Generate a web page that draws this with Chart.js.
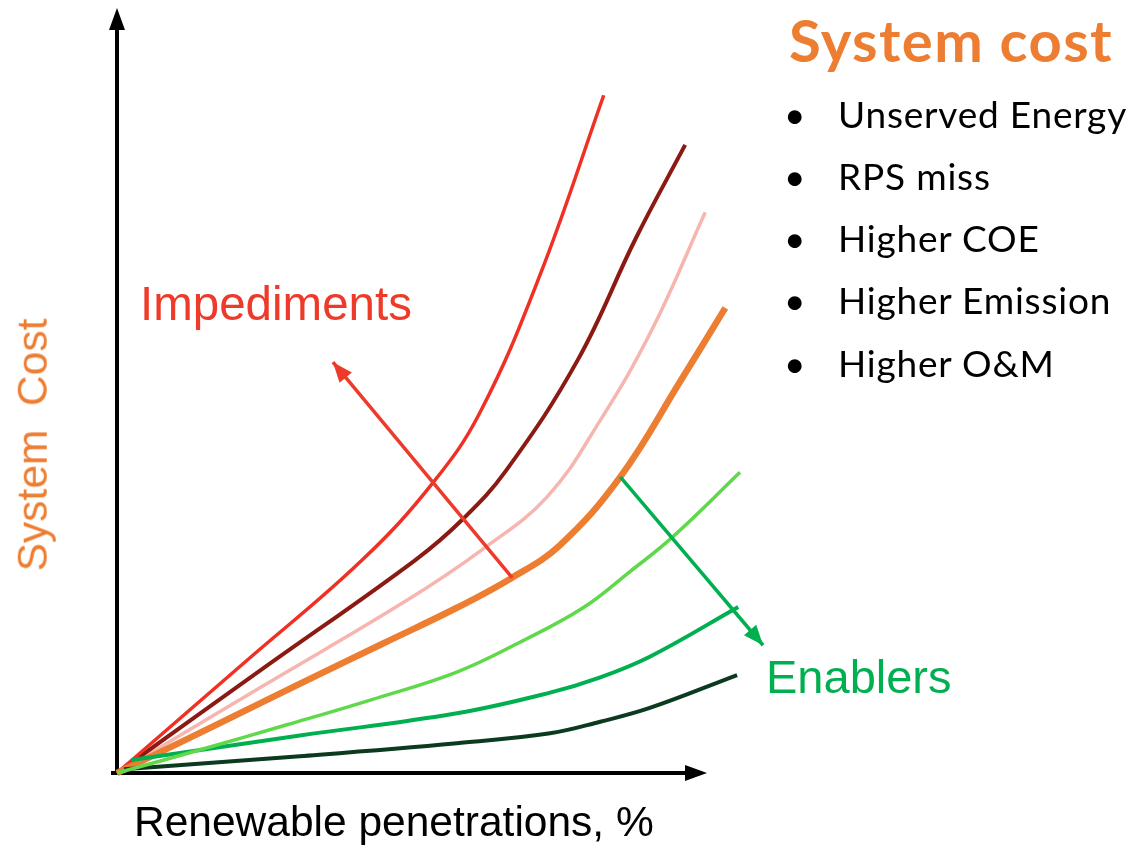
<!DOCTYPE html>
<html>
<head>
<meta charset="utf-8">
<script src="https://cdn.jsdelivr.net/npm/chart.js@4/dist/chart.umd.min.js"></script>
<style>
  html,body{margin:0;padding:0;background:#fff;}
  #wrap{position:relative;width:1132px;height:845px;overflow:hidden;}
  canvas{position:absolute;left:0;top:0;}
  .lbl{position:absolute;white-space:nowrap;font-family:"Liberation Sans",Arial,sans-serif;line-height:1;}
  #title{position:absolute;left:789px;top:11px;font-family:Lato,"Open Sans",sans-serif;font-weight:bold;font-size:58px;letter-spacing:1.4px;color:#ED7D31;line-height:1;white-space:nowrap;}
  #list{position:absolute;left:784px;top:82.5px;margin:0;padding:0;list-style:none;font-family:Lato,"Open Sans",sans-serif;font-size:37px;letter-spacing:0.8px;color:#000;}
  #list li{height:62.3px;line-height:62.3px;position:relative;padding-left:54px;white-space:nowrap;}
  #list li:before{content:"\2022";position:absolute;left:0;top:0;}
</style>
</head>
<body>
<div id="wrap">
  <canvas id="c" width="1132" height="845"></canvas>
  <div id="title">System cost</div>
  <ul id="list"></ul>
  <div class="lbl" id="imp" style="left:140px;top:280px;font-size:47.5px;color:#EE3A2A;">Impediments</div>
  <div class="lbl" id="ena" style="left:766px;top:653px;font-size:47px;color:#00B050;">Enablers</div>
  <div class="lbl" id="xt" style="left:134px;top:801px;font-size:42.5px;color:#000;">Renewable penetrations, %</div>
  <div class="lbl" id="yt" style="left:33px;top:445px;font-size:42.5px;color:#ED7D31;transform:translate(-50%,-50%) rotate(-90deg);">System&nbsp; Cost</div>
</div>
<script>
// ---- data (x: renewable penetration, y: system cost; conceptual units 0-100) ----
const costItems = ["Unserved Energy", "RPS miss", "Higher COE", "Higher Emission", "Higher O&M"];

const redX      = [0, 22.0, 41.5, 53.4, 61.5, 71.7, 82.5];
const redY      = [0, 14.7, 27.8, 37.8, 47.1, 65.1, 88.6];

const darkRedX  = [0, 25.0, 50.5, 58.5, 66.0, 78.1, 88.0, 96.3];
const darkRedY  = [0, 13.8, 27.8, 33.1, 39.6, 54.0, 70.0, 82.1];

const pinkX     = [0, 25.0, 49.2, 61.9, 72.9, 81.9, 90.7, 99.7];
const pinkY     = [0, 11.5, 22.6, 29.2, 36.1, 46.1, 58.0, 73.3];

const baseX     = [0, 15.0, 30.0, 45.0, 57.6, 66.9, 75.1, 85.3, 95.4, 103.1];
const baseY     = [0, 5.6, 11.3, 16.9, 21.6, 25.5, 29.8, 38.7, 51.1, 60.8];

const lightGreenX = [0, 14.4, 28.8, 43.2, 57.6, 68.3, 79.0, 86.9, 94.1, 105.6];
const lightGreenY = [0, 3.1, 6.3, 9.6, 13.2, 17.1, 21.6, 26.3, 30.8, 39.3];

const greenX    = [2.5, 31.0, 57.6, 73.4, 81.9, 90.3, 105.3];
const greenY    = [1.7, 4.9, 7.8, 10.5, 12.5, 15.2, 21.7];

const darkGreenX = [1.2, 31.0, 57.6, 73.4, 81.9, 90.3, 105.1];
const darkGreenY = [0.5, 2.2, 3.9, 5.2, 6.7, 8.5, 12.8];

// annotation arrows: [tail, head]
const impArrowX = [67.0, 36.6];
const impArrowY = [25.5, 53.7];
const enaArrowX = [85.3, 109.5];
const enaArrowY = [38.7, 16.7];

const xMin = 0, xMax = 100, yMin = 0, yMax = 100;

// ---- build ----
document.getElementById('list').innerHTML = costItems.map(s => '<li>' + s.replace('&','&amp;') + '</li>').join('');

function pts(xs, ys){ return xs.map((x,i)=>({x:x, y:ys[i]})); }
function curve(label, xs, ys, color, w, order){
  return {label, data: pts(xs, ys), borderColor: color, borderWidth: w, pointRadius: 0,
          tension: 0.4, fill: false, order, borderCapStyle: 'butt', clip: false};
}
function arrow(label, xs, ys, color){
  return {label, data: pts(xs, ys), borderColor: color, backgroundColor: color, borderWidth: 3.5,
          pointRadius: 0, tension: 0, fill: false, order: 0, arrow: true, clip: false};
}

const axesPlugin = {
  id: 'axesArrows',
  beforeDatasetsDraw(chart){
    const {ctx, chartArea: a} = chart;
    ctx.save();
    ctx.strokeStyle = '#000'; ctx.fillStyle = '#000'; ctx.lineWidth = 4;
    ctx.beginPath();
    ctx.moveTo(a.left, a.bottom + 2); ctx.lineTo(a.left, a.top + 20);
    ctx.moveTo(a.left - 6, a.bottom); ctx.lineTo(a.right - 18, a.bottom);
    ctx.stroke();
    ctx.beginPath();
    ctx.moveTo(a.left, a.top); ctx.lineTo(a.left - 8, a.top + 22); ctx.lineTo(a.left + 8, a.top + 22); ctx.closePath();
    ctx.moveTo(a.right, a.bottom); ctx.lineTo(a.right - 22, a.bottom - 8); ctx.lineTo(a.right - 22, a.bottom + 8); ctx.closePath();
    ctx.fill();
    ctx.restore();
  },
  afterDatasetsDraw(chart){
    const ctx = chart.ctx;
    chart.data.datasets.forEach((ds, i) => {
      if (!ds.arrow) return;
      const m = chart.getDatasetMeta(i).data;
      const p0 = m[0], p1 = m[1];
      const ang = Math.atan2(p1.y - p0.y, p1.x - p0.x);
      const L = 20, W = 8;
      ctx.save();
      ctx.fillStyle = ds.borderColor;
      ctx.beginPath();
      ctx.moveTo(p1.x, p1.y);
      ctx.lineTo(p1.x - L*Math.cos(ang) + W*Math.sin(ang), p1.y - L*Math.sin(ang) - W*Math.cos(ang));
      ctx.lineTo(p1.x - L*Math.cos(ang) - W*Math.sin(ang), p1.y - L*Math.sin(ang) + W*Math.cos(ang));
      ctx.closePath(); ctx.fill();
      ctx.restore();
    });
  }
};

new Chart(document.getElementById('c'), {
  type: 'line',
  data: {
    datasets: [
      curve('Impediment high', redX, redY, '#EE3124', 3.5, 3),
      curve('Impediment mid', darkRedX, darkRedY, '#8B1A12', 4, 3),
      curve('Impediment low', pinkX, pinkY, '#F7B5AF', 3.5, 3),
      curve('Baseline', baseX, baseY, '#ED7D31', 6.5, 2),
      curve('Enabler low', lightGreenX, lightGreenY, '#5FD94A', 3.5, 1),
      curve('Enabler mid', greenX, greenY, '#00B050', 4, 1),
      curve('Enabler high', darkGreenX, darkGreenY, '#0B3A1E', 4, 1),
      arrow('Impediments', impArrowX, impArrowY, '#EE3A2A'),
      arrow('Enablers', enaArrowX, enaArrowY, '#00B050')
    ]
  },
  options: {
    responsive: false, animation: false, devicePixelRatio: 1,
    layout: {padding: {left: 117, right: 425, top: 8, bottom: 72}},
    plugins: {legend: {display: false}, tooltip: {enabled: false}},
    scales: {
      x: {type: 'linear', min: xMin, max: xMax, display: false},
      y: {type: 'linear', min: yMin, max: yMax, display: false}
    }
  },
  plugins: [axesPlugin]
});
</script>
</body>
</html>
